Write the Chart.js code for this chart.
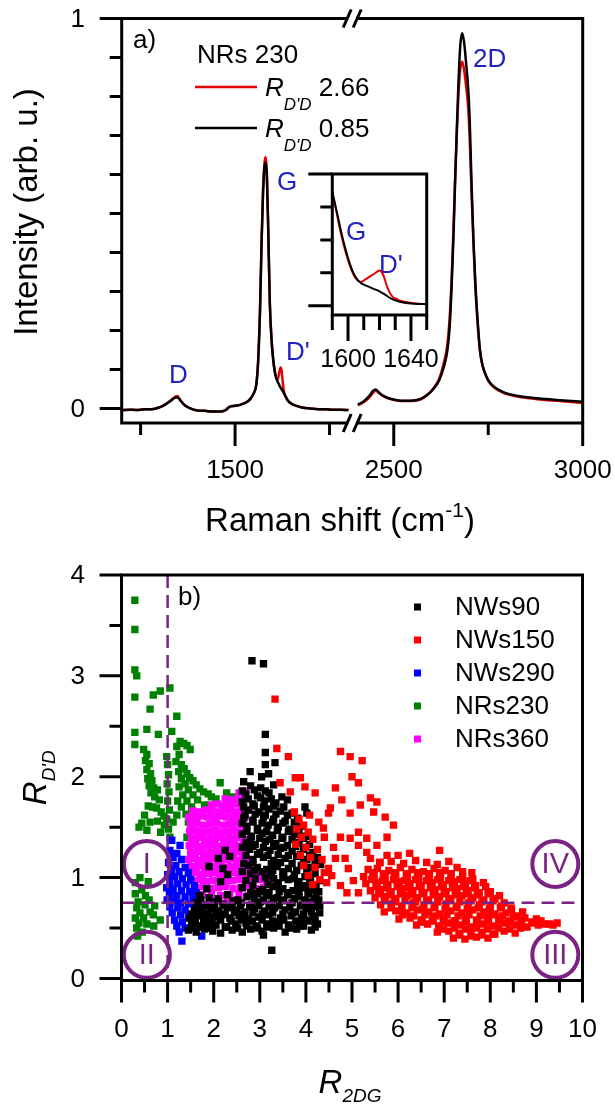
<!DOCTYPE html>
<html>
<head>
<meta charset="utf-8">
<script src="https://cdn.jsdelivr.net/npm/chart.js@4.4.1/dist/chart.umd.min.js"></script>
<style>
  html, body { margin: 0; padding: 0; background: #fff; }
  body { width: 615px; height: 1107px; position: relative; overflow: hidden; }
  canvas { position: absolute; }
</style>
</head>
<body>
<canvas id="spec" width="615" height="545" style="left:0;top:0"></canvas>
<canvas id="inset" width="170" height="230" style="left:280px;top:150px"></canvas>
<canvas id="ratio" width="615" height="562" style="left:0;top:545px"></canvas>
<script>
var FONT = "'Liberation Sans', Arial, sans-serif";
var BLUE = '#2121c4';
var PURPLE = '#7a2382';

// ---- panel a) Raman spectra, NRs 230 (shift in cm-1, normalised intensity)
var shiftLow = [1200,1220,1240,1260,1280,1300,1315,1330,1340,1347,1355,1365,1380,1400,1420,1440,1460,1475,1485,1500,
  1515,1530,1540,1550,1556,1561,1566,1570,1574,1578,1581,1584,1588,1592,1597,1601,1606,1610,1613,1616,
  1619,1621,1623,1626,1629,1633,1640,1650,1665,1680,1700,1720,1740,1760,1780,1800];
var blackLow = [-0.004,-0.003,-0.004,-0.002,-0.002,0.003,0.010,0.020,0.027,0.029,0.021,0.010,0.001,-0.005,-0.006,-0.008,-0.008,-0.004,0.004,0.007,
  0.010,0.016,0.024,0.040,0.060,0.12,0.25,0.42,0.55,0.62,0.63,0.60,0.45,0.27,0.17,0.125,0.09,0.075,0.068,0.062,
  0.056,0.053,0.050,0.045,0.040,0.032,0.020,0.012,0.006,0.002,0.0,-0.002,-0.002,-0.003,-0.003,-0.004];
var redLow = [-0.004,-0.003,-0.004,-0.002,-0.002,0.003,0.010,0.021,0.029,0.032,0.022,0.010,0.001,-0.005,-0.006,-0.008,-0.008,-0.004,0.004,0.007,
  0.010,0.016,0.024,0.040,0.060,0.12,0.25,0.42,0.56,0.63,0.645,0.61,0.45,0.27,0.17,0.125,0.09,0.075,0.075,0.088,
  0.101,0.105,0.098,0.070,0.045,0.033,0.020,0.012,0.006,0.002,0.0,-0.002,-0.002,-0.003,-0.003,-0.004];
var shiftHigh = [2405,2420,2435,2445,2452,2460,2470,2485,2500,2520,2545,2570,2590,2605,2620,2632,2642,2648,2653,2658,
  2662,2667,2671,2676,2681,2686,2691,2697,2701,2706,2711,2716,2721,2728,2735,2742,2750,2765,2780,2795,2830,2880,2940,3000];
var blackHigh = [0.010,0.018,0.032,0.045,0.049,0.042,0.034,0.027,0.023,0.020,0.020,0.024,0.036,0.050,0.072,0.105,0.15,0.21,0.31,0.44,
  0.57,0.72,0.83,0.93,0.962,0.94,0.89,0.82,0.74,0.57,0.43,0.32,0.24,0.15,0.11,0.09,0.073,0.056,0.047,0.040,0.032,0.026,0.021,0.017];
var redHigh = [0.008,0.016,0.028,0.040,0.046,0.040,0.033,0.026,0.022,0.019,0.019,0.023,0.036,0.052,0.076,0.115,0.165,0.235,0.33,0.46,
  0.58,0.71,0.80,0.87,0.889,0.87,0.83,0.77,0.69,0.55,0.42,0.31,0.23,0.15,0.11,0.088,0.071,0.054,0.045,0.038,0.030,0.024,0.019,0.014];
var specTicks = [1250, 1500, 1750, 2500, 2750, 3000];
var specLabels = [1500, 2500, 3000];

// inset: zoom on G / D'
var insetShift = [1590,1592.5,1595,1597.5,1600,1602.5,1605,1608,1611,1614,1617,1620,1622.5,1625,1627.5,1631,1635,1640,1645,1650];
var insetBlack = [3.45,2.93,2.38,1.88,1.45,1.10,0.86,0.70,0.62,0.56,0.50,0.44,0.37,0.29,0.22,0.15,0.10,0.07,0.055,0.05];
var insetRed = [3.45,2.88,2.30,1.80,1.38,1.05,0.82,0.72,0.80,0.89,0.98,1.07,0.92,0.56,0.32,0.20,0.13,0.09,0.06,0.05];
var insetTicks = [1590, 1600, 1610, 1620, 1630, 1640, 1650];
var insetLabels = [1600, 1640];

// ---- panel b) R_D'D vs R_2DG
var nws90 = [
  [2.83,3.15],[3.08,3.12],[3.12,2.42],[3.12,2.24],[3.33,2.14],[3.12,2.12],[2.79,2.05],[3.04,2.00],[3.19,2.03],[3.08,0.43],[3.26,0.28],
  [1.45,0.48],[1.62,0.46],[1.80,0.49],[1.98,0.47],[2.15,0.45],[2.40,0.48],[2.62,0.46],[2.80,0.49],[3.05,0.47],[3.30,0.50],[3.55,0.46],[3.80,0.49],[3.95,0.52],[4.12,0.48],
  [1.55,0.50],[1.77,0.51],[1.95,0.50],[2.28,0.51],[2.52,0.50],[2.72,0.52],[2.95,0.50],[3.18,0.51],[3.42,0.52],[3.68,0.50],[3.90,0.52],[4.20,0.51],
  [1.52,0.54],[1.70,0.52],[1.88,0.55],[2.05,0.53],[2.25,0.51],[2.48,0.54],[2.70,0.55],[2.92,0.52],[3.15,0.54],[3.40,0.56],[3.62,0.53],[3.85,0.55],[4.05,0.57],[4.25,0.54],
  [1.60,0.57],[1.78,0.58],[1.96,0.57],[2.15,0.58],[2.38,0.57],[2.60,0.58],[2.84,0.57],[3.05,0.58],[3.28,0.57],[3.52,0.58],[3.78,0.57],[3.98,0.58],[4.20,0.58],
  [1.48,0.60],[1.65,0.62],[1.82,0.59],[2.00,0.61],[2.18,0.63],[2.35,0.60],[2.55,0.62],[2.75,0.59],[2.98,0.61],[3.20,0.63],[3.45,0.60],[3.68,0.62],[3.90,0.60],[4.15,0.62],[4.30,0.65],
  [1.52,0.64],[1.70,0.65],[1.88,0.64],[2.05,0.65],[2.25,0.64],[2.45,0.65],[2.65,0.64],[2.85,0.65],[3.05,0.64],[3.28,0.65],[3.50,0.64],[3.72,0.65],[3.95,0.64],[4.12,0.66],
  [1.58,0.68],[1.75,0.66],[1.92,0.69],[2.10,0.67],[2.30,0.70],[2.50,0.68],[2.68,0.66],[2.88,0.69],[3.10,0.67],[3.32,0.70],[3.55,0.68],[3.78,0.66],[4.00,0.69],[4.20,0.71],
  [1.68,0.71],[1.85,0.72],[2.02,0.71],[2.22,0.72],[2.40,0.71],[2.58,0.72],[2.78,0.71],[2.98,0.72],[3.20,0.71],[3.42,0.72],[3.65,0.71],[3.88,0.72],[4.08,0.71],[4.30,0.72],
  [1.62,0.75],[1.80,0.73],[1.98,0.76],[2.20,0.74],[2.42,0.77],[2.60,0.75],[2.82,0.73],[3.02,0.76],[3.25,0.74],[3.48,0.77],[3.70,0.75],[3.92,0.73],[4.12,0.76],[4.28,0.78],
  [1.72,0.78],[2.10,0.79],[2.52,0.78],[2.88,0.79],[3.08,0.78],[3.30,0.79],[3.52,0.78],[3.75,0.79],[3.98,0.78],[4.18,0.79],
  [1.70,0.82],[1.90,0.80],[2.30,0.83],[2.72,0.81],[2.95,0.84],[3.15,0.82],[3.38,0.80],[3.60,0.83],[3.85,0.81],[4.05,0.84],[4.22,0.82],
  [2.80,0.85],[3.00,0.86],[3.20,0.85],[3.42,0.86],[3.62,0.85],[3.85,0.86],[4.05,0.85],[4.28,0.86],
  [1.85,0.89],[2.62,0.90],[3.05,0.88],[3.28,0.91],[3.50,0.89],[3.72,0.87],[3.95,0.90],[4.15,0.88],
  [2.85,0.92],[3.18,0.93],[3.38,0.92],[3.82,0.93],[4.00,0.92],[4.22,0.93],
  [2.15,0.96],[2.70,0.97],[3.40,0.95],[3.62,0.98],[3.85,0.96],[4.08,0.94],[4.30,0.97],
  [2.90,0.99],[3.12,1.00],[3.30,0.99],[3.50,1.00],[3.72,0.99],[4.10,1.00],
  [2.30,1.03],[2.80,1.04],[3.25,1.02],[3.52,1.05],[3.75,1.03],[3.98,1.01],[4.20,1.04],
  [2.62,1.06],[2.88,1.07],[3.05,1.06],[3.28,1.07],[3.50,1.06],[3.80,1.07],[4.02,1.06],
  [1.90,1.11],[2.20,1.09],[2.75,1.12],[2.95,1.10],[3.15,1.08],[3.38,1.11],[3.62,1.09],[3.90,1.12],[4.10,1.10],[4.32,1.13],
  [2.65,1.14],[2.85,1.15],[3.25,1.14],[3.45,1.15],[3.70,1.14],[3.95,1.15],[4.20,1.14],
  [2.10,1.19],[2.35,1.21],[2.85,1.18],[3.08,1.20],[3.30,1.17],[3.55,1.19],[3.80,1.21],[4.02,1.18],[4.25,1.20],
  [2.70,1.22],[2.95,1.23],[3.18,1.22],[3.40,1.23],[3.62,1.22],[3.88,1.23],[4.08,1.22],
  [2.25,1.27],[2.78,1.28],[3.00,1.25],[3.22,1.27],[3.45,1.29],[3.70,1.26],[3.95,1.28],[4.15,1.25],
  [2.62,1.30],[2.85,1.31],[3.08,1.30],[3.30,1.31],[3.52,1.30],[3.78,1.31],[3.98,1.30],
  [2.70,1.35],[2.90,1.33],[3.12,1.36],[3.35,1.34],[3.60,1.32],[3.85,1.35],[4.08,1.33],
  [2.80,1.38],[3.00,1.39],[3.22,1.38],[3.48,1.39],[3.70,1.38],[3.95,1.39],
  [2.62,1.43],[2.82,1.41],[3.05,1.44],[3.28,1.42],[3.50,1.40],[3.75,1.43],[4.00,1.41],
  [2.72,1.46],[2.95,1.47],[3.15,1.46],[3.38,1.47],[3.62,1.46],[3.85,1.47],
  [2.72,1.51],[2.95,1.49],[3.18,1.52],[3.40,1.50],[3.65,1.48],[3.90,1.51],
  [2.62,1.54],[2.85,1.55],[3.05,1.54],[3.28,1.55],[3.50,1.54],[3.75,1.55],
  [2.65,1.59],[2.85,1.57],[3.08,1.60],[3.30,1.58],[3.55,1.56],[3.82,1.59],[4.02,1.64],
  [2.68,1.62],[2.90,1.63],[3.12,1.62],[3.35,1.63],[3.60,1.62],
  [2.75,1.67],[2.98,1.65],[3.20,1.68],[3.45,1.66],[3.70,1.64],[3.98,1.70],
  [2.65,1.70],[2.88,1.71],[3.08,1.70],[3.30,1.71],[3.52,1.70],
  [2.62,1.75],[2.85,1.73],[3.10,1.76],[3.35,1.74],[3.60,1.77],
  [2.75,1.78],[3.02,1.79],[3.25,1.78],
  [2.70,1.83],[2.95,1.81],[3.20,1.84],[3.48,1.80],
  [2.62,1.86],[2.88,1.87],[3.12,1.86],
  [2.80,1.91],[3.02,1.89],[3.30,1.92],[2.65,1.95]
];
var nws150 = [
  [3.33,2.77],[3.37,2.28],[3.62,2.20],[3.44,1.94],[3.77,1.99],[3.88,1.99],[3.98,1.90],[3.66,1.85],[4.20,1.84],[4.64,1.89],
  [4.75,2.25],[4.96,2.20],[5.22,2.16],[5.00,2.00],[5.14,1.94],[5.40,1.79],[5.54,1.75],[4.78,1.77],[4.53,1.69],[4.49,1.64],
  [5.18,1.72],[4.96,1.64],[5.47,1.65],[5.72,1.60],[5.90,1.52],[4.38,1.49],[4.75,1.40],[4.96,1.39],[5.14,1.45],[5.32,1.39],
  [5.54,1.32],[5.76,1.40],[5.14,1.32],[5.32,1.25],[4.64,1.19],[4.85,1.19],[4.49,1.09],[4.92,1.09],[4.56,1.02],[4.75,0.92],
  [4.89,0.85],[5.03,0.97],[5.14,0.85],[5.40,1.19],[5.61,1.15],[5.76,1.22],
  [3.75,1.65],[3.85,1.58],[3.95,1.52],[3.80,1.48],[4.05,1.45],[3.90,1.40],[4.15,1.38],[3.78,1.33],[4.00,1.30],[4.25,1.28],
  [3.88,1.22],[4.10,1.20],[4.35,1.18],[3.95,1.12],[4.20,1.10],[4.40,1.05],[4.05,1.02],[4.30,0.98],[4.15,0.93],[4.45,0.95],
  [4.08,1.62],[4.28,1.55],[4.40,1.40],[4.60,1.30],
  [6.00,1.22],[6.25,1.24],[6.90,1.27],
  [5.60,1.15],[5.85,1.16],[6.12,1.14],[6.38,1.17],[6.62,1.15],[6.85,1.13],[7.10,1.16],
  [5.35,1.08],[5.55,1.09],[5.80,1.07],[6.05,1.10],[6.30,1.08],[6.55,1.06],[6.78,1.09],[7.02,1.07],[7.28,1.10],[7.60,1.05],
  [5.45,1.05],[5.68,1.04],[5.92,1.05],[6.18,1.04],[6.42,1.05],[6.66,1.04],[6.90,1.05],[7.15,1.04],[7.40,1.06],
  [5.25,1.01],[5.48,1.02],[5.72,1.00],[5.95,1.03],[6.20,1.01],[6.45,0.99],[6.68,1.02],[6.92,1.00],[7.15,1.03],[7.40,1.01],[7.62,0.99],
  [5.42,0.98],[5.66,0.97],[5.90,0.98],[6.14,0.97],[6.38,0.98],[6.62,0.97],[6.86,0.98],[7.10,0.97],[7.34,0.98],[7.56,0.97],
  [5.30,0.94],[5.55,0.95],[5.78,0.93],[6.02,0.96],[6.26,0.94],[6.50,0.92],[6.74,0.95],[6.98,0.93],[7.22,0.96],[7.46,0.94],[7.68,0.92],[7.85,0.95],
  [5.52,0.91],[5.75,0.90],[5.98,0.91],[6.22,0.90],[6.46,0.91],[6.70,0.90],[6.94,0.91],[7.18,0.90],[7.42,0.91],[7.66,0.90],[7.90,0.91],
  [5.40,0.87],[5.62,0.88],[5.85,0.86],[6.08,0.89],[6.32,0.87],[6.56,0.85],[6.80,0.88],[7.04,0.86],[7.28,0.89],[7.52,0.87],[7.76,0.85],[8.00,0.86],
  [5.58,0.84],[5.82,0.83],[6.05,0.84],[6.28,0.83],[6.52,0.84],[6.76,0.83],[7.00,0.84],[7.24,0.83],[7.48,0.84],[7.72,0.83],[7.95,0.84],[8.20,0.82],
  [5.50,0.80],[5.72,0.81],[5.95,0.79],[6.18,0.82],[6.42,0.80],[6.66,0.78],[6.90,0.81],[7.14,0.79],[7.38,0.82],[7.62,0.80],[7.86,0.78],[8.10,0.79],
  [5.70,0.77],[5.92,0.76],[6.15,0.77],[6.38,0.76],[6.62,0.77],[6.86,0.76],[7.10,0.77],[7.34,0.76],[7.58,0.77],[7.82,0.76],[8.06,0.77],[8.30,0.75],
  [5.62,0.73],[5.85,0.74],[6.08,0.72],[6.32,0.75],[6.56,0.73],[6.80,0.71],[7.04,0.74],[7.28,0.72],[7.52,0.75],[7.76,0.73],[8.00,0.71],[8.24,0.72],[8.45,0.70],
  [5.85,0.70],[6.08,0.69],[6.30,0.70],[6.54,0.69],[6.78,0.70],[7.02,0.69],[7.26,0.70],[7.50,0.69],[7.74,0.70],[7.98,0.69],[8.22,0.70],[8.46,0.68],[8.70,0.66],
  [5.70,0.66],[5.95,0.67],[6.18,0.65],[6.42,0.68],[6.66,0.66],[6.90,0.64],[7.14,0.67],[7.38,0.65],[7.62,0.68],[7.86,0.66],[8.10,0.64],[8.34,0.65],[8.58,0.62],
  [6.10,0.63],[6.34,0.62],[6.58,0.63],[6.82,0.62],[7.06,0.63],[7.30,0.62],[7.54,0.63],[7.78,0.62],[8.02,0.63],[8.26,0.62],[8.50,0.61],[8.75,0.60],[9.00,0.59],
  [6.02,0.59],[6.26,0.60],[6.50,0.58],[6.74,0.61],[6.98,0.59],[7.22,0.57],[7.46,0.60],[7.70,0.58],[7.94,0.61],[8.18,0.59],[8.42,0.57],[8.66,0.58],[8.90,0.56],[9.10,0.57],
  [6.52,0.56],[6.76,0.57],[7.00,0.56],[7.24,0.57],[7.48,0.56],[7.72,0.57],[7.96,0.56],[8.20,0.57],[8.44,0.56],[8.68,0.55],[8.92,0.55],[9.16,0.54],[9.36,0.53],
  [6.40,0.53],[6.64,0.54],[6.88,0.52],[7.12,0.55],[7.36,0.53],[7.60,0.51],[7.84,0.54],[8.08,0.52],[8.32,0.55],[8.56,0.53],[8.80,0.51],[9.04,0.53],[9.28,0.54],[9.45,0.55],
  [6.98,0.49],[7.22,0.50],[7.46,0.49],[7.70,0.50],[7.94,0.49],[8.18,0.50],[8.42,0.49],[8.66,0.50],
  [6.85,0.46],[7.10,0.47],[7.34,0.45],[7.58,0.48],[7.82,0.46],[8.06,0.44],[8.30,0.47],[8.54,0.45],
  [7.32,0.43],[7.58,0.42],[7.82,0.43],[8.10,0.44],
  [7.20,0.40],[7.45,0.39],[7.70,0.41],[7.95,0.40]
];
var nws290 = [
  [1.09,1.37],[1.27,1.32],[1.05,1.27],[1.20,1.24],[1.12,1.20],[1.30,1.18],[1.02,1.15],[1.18,1.12],[1.38,1.10],[1.08,1.08],
  [1.25,1.06],[1.45,1.05],[1.00,1.03],[1.15,1.01],[1.32,0.99],[1.50,0.98],[1.05,0.96],[1.22,0.94],[1.40,0.93],[1.58,0.92],
  [0.98,0.90],[1.12,0.89],[1.30,0.87],[1.48,0.86],[1.04,0.84],[1.20,0.82],[1.38,0.81],[1.55,0.80],[0.99,0.78],[1.14,0.77],
  [1.28,0.75],[1.45,0.74],[1.05,0.71],[1.22,0.70],[1.38,0.68],[1.10,0.65],[1.28,0.63],[1.45,0.62],[1.15,0.58],[1.32,0.56],
  [1.20,0.52],[1.38,0.50],[1.25,0.46],[1.31,0.37],[1.74,0.42],[1.60,0.70],[1.62,0.85]
];
var nrs230 = [
  [0.29,3.75],[0.29,3.46],[0.29,3.06],[0.33,3.00],[0.29,2.79],[0.69,2.81],[0.84,2.85],[1.05,2.88],[0.62,2.67],[1.20,2.60],
  [0.29,2.44],[0.55,2.47],[0.80,2.42],[1.09,2.45],[0.29,2.32],[1.27,2.35],[1.35,2.33],[1.42,2.31],[1.49,2.27],
  [0.48,2.27],[0.55,2.22],[0.52,2.16],[0.60,2.13],[0.55,2.07],[0.63,2.03],[0.57,1.98],[0.66,1.96],[0.60,1.91],[0.70,1.89],
  [0.78,1.87],[0.64,1.84],[0.72,1.80],[0.82,1.77],[0.58,1.71],[0.67,1.70],[0.76,1.69],[0.86,1.65],[0.50,1.62],[0.92,1.61],
  [0.44,1.54],[0.62,1.55],[0.78,1.56],[0.93,1.52],[0.38,1.50],[0.55,1.47],[0.85,1.45],
  [0.98,2.20],[1.00,2.12],[1.02,2.02],[0.99,1.93],[1.03,1.85],[1.00,1.76],[1.04,1.67],[0.98,1.58],[1.02,1.48],[1.05,1.40],
  [1.20,2.30],[1.25,2.22],[1.18,2.15],[1.30,2.12],[1.24,2.05],[1.36,2.08],[1.42,2.03],[1.30,1.98],[1.48,1.99],[1.55,1.96],
  [1.38,1.93],[1.62,1.92],[1.25,1.90],[1.45,1.87],[1.70,1.88],[1.78,1.85],[1.33,1.82],[1.55,1.82],[1.88,1.83],[1.95,1.80],
  [1.22,1.76],[1.42,1.76],[1.65,1.77],[2.05,1.78],[2.14,1.94],[2.28,1.84],[2.40,1.80],[1.30,1.70],[1.52,1.70],[1.80,1.72],
  [1.20,1.62],[1.40,1.63],[1.62,1.64],[1.45,1.55],[1.52,1.47],[1.42,1.40],[1.12,1.55],
  [0.44,0.88],[0.30,0.84],[0.52,0.82],[0.36,0.76],[0.60,0.78],[0.33,0.70],[0.51,0.73],[0.72,0.72],[0.40,0.65],[0.62,0.66],
  [0.30,0.60],[0.48,0.60],[0.69,0.63],[0.84,0.58],[0.38,0.55],[0.55,0.54],[0.33,0.50],[0.70,0.52],[0.45,0.46],[0.35,0.42],
  [0.58,0.96],[0.40,1.00],[0.30,0.95]
];
var nrs360 = [
  [2.55,1.84],[2.68,1.86],
  [2.25,1.78],[2.40,1.77],[2.55,1.79],[2.68,1.78],
  [1.95,1.72],[2.08,1.73],[2.20,1.71],[2.33,1.72],[2.46,1.73],[2.60,1.71],
  [1.55,1.66],[1.70,1.65],[1.83,1.67],[1.96,1.66],[2.10,1.65],[2.23,1.67],[2.36,1.66],[2.50,1.65],[2.63,1.67],
  [1.46,1.60],[1.60,1.59],[1.74,1.61],[1.88,1.60],[2.01,1.59],[2.15,1.61],[2.28,1.60],[2.42,1.59],[2.55,1.61],[2.68,1.60],
  [1.50,1.53],[1.64,1.54],[1.78,1.52],[1.92,1.53],[2.06,1.54],[2.20,1.52],[2.34,1.53],[2.48,1.54],[2.62,1.52],
  [1.48,1.46],[1.62,1.47],[1.76,1.45],[1.90,1.46],[2.04,1.47],[2.18,1.45],[2.32,1.46],[2.46,1.47],[2.60,1.45],
  [1.52,1.39],[1.66,1.40],[1.80,1.38],[1.94,1.39],[2.08,1.40],[2.22,1.38],[2.36,1.39],[2.50,1.40],[2.64,1.38],
  [1.47,1.32],[1.61,1.33],[1.75,1.31],[1.89,1.32],[2.03,1.33],[2.17,1.31],[2.31,1.32],[2.45,1.33],[2.59,1.31],
  [1.50,1.25],[1.64,1.26],[1.78,1.24],[1.92,1.25],[2.06,1.26],[2.20,1.24],[2.34,1.25],[2.48,1.26],[2.62,1.24],
  [1.46,1.18],[1.60,1.19],[1.74,1.17],[1.88,1.18],[2.02,1.19],[2.16,1.17],[2.30,1.18],[2.44,1.19],[2.58,1.17],[2.72,1.18],
  [1.52,1.11],[1.66,1.12],[1.80,1.10],[1.94,1.11],[2.08,1.12],[2.22,1.10],[2.36,1.11],[2.50,1.12],[2.64,1.10],[2.78,1.11],
  [1.48,1.04],[1.62,1.05],[1.76,1.03],[1.90,1.04],[2.04,1.05],[2.18,1.03],[2.32,1.04],[2.46,1.05],[2.60,1.03],[2.74,1.04],[2.90,1.05],[3.05,1.03],[3.20,1.04],
  [1.55,0.97],[1.70,0.98],[1.84,0.96],[1.98,0.97],[2.12,0.98],[2.26,0.96],[2.40,0.97],[2.54,0.98],[2.68,0.96],[2.84,0.97],[3.00,0.98],[3.15,0.96],[3.30,0.97],
  [1.62,0.90],[1.78,0.91],[1.94,0.89],[2.10,0.90],[2.26,0.91],[2.42,0.89],[2.58,0.90],[2.74,0.91],[2.90,0.89],[3.08,0.90],
  [1.75,0.83],[1.95,0.84],[2.15,0.82],[2.35,0.83],[2.55,0.84],[2.75,0.82],
  [2.05,0.77],[2.30,0.76],[2.55,0.77]
];
var seriesNames = ['NWs90', 'NWs150', 'NWs290', 'NRs230', 'NRs360'];
var seriesColors = ['#000000', '#ff0000', '#0000ff', '#008000', '#ff00ff'];
var guideX = 1, guideY = 0.75;
var regionNames = ['I', 'II', 'III', 'IV'];
var regionX = [0.55, 0.55, 9.41, 9.41];
var regionY = [1.135, 0.235, 0.235, 1.135];

Chart.defaults.font.family = FONT;
Chart.defaults.color = '#000';

// broken axis: 1800..2400 cut out
function brk(w) { return w > 2000 ? w - 580 : w; }
function unbrk(v) { return v > 1810 ? v + 580 : v; }

function toXY(xs, ys) {
  return xs.map(function (w, i) { return { x: brk(w), y: ys[i] }; });
}
function spectrum(low, high) {
  return toXY(shiftLow, low).concat([{ x: 1810, y: null }], toXY(shiftHigh, high));
}
function toXYplain(xs, ys) { return xs.map(function (x, i) { return { x: x, y: ys[i] }; }); }

function richText(ctx, x, y, parts) {
  parts.forEach(function (p) {
    ctx.font = p[1];
    ctx.fillText(p[0], x, y + (p[2] || 0));
    x += ctx.measureText(p[0]).width;
  });
  return x;
}
function richWidth(ctx, parts) {
  var w = 0;
  parts.forEach(function (p) { ctx.font = p[1]; w += ctx.measureText(p[0]).width; });
  return w;
}

// y tick labels, right aligned a fixed distance left of the frame
function yLabels(ctx, ys, labelOf) {
  ctx.fillStyle = '#000';
  ctx.font = '26px ' + FONT;
  ctx.textAlign = 'right';
  ctx.textBaseline = 'middle';
  ys.ticks.forEach(function (t) {
    var s = labelOf(t.value);
    if (s) ctx.fillText(s, 85, ys.getPixelForValue(t.value) + 1);
  });
}

var specDecor = {
  id: 'specDecor',
  afterDraw: function (chart) {
    var ctx = chart.ctx, a = chart.chartArea, xs = chart.scales.x, ys = chart.scales.y;
    ctx.save();
    ctx.strokeStyle = '#000';
    ctx.lineWidth = 3;
    ctx.strokeRect(a.left, a.top, a.right - a.left, a.bottom - a.top);
    ctx.beginPath();
    xs.ticks.forEach(function (t) {
      var px = xs.getPixelForValue(t.value);
      var len = specLabels.indexOf(unbrk(t.value)) >= 0 ? 23 : 12;
      ctx.moveTo(px, a.bottom); ctx.lineTo(px, a.bottom + len);
    });
    ys.ticks.forEach(function (t) {
      var py = ys.getPixelForValue(t.value);
      var len = (t.value === 0 || t.value === 1) ? 22 : 12;
      ctx.moveTo(a.left, py); ctx.lineTo(a.left - len, py);
    });
    ctx.stroke();
    yLabels(ctx, ys, function (v) { return (v === 0 || v === 1) ? String(v) : ''; });

    // axis break marks
    var bx = xs.getPixelForValue(1810);
    ctx.fillStyle = '#fff';
    [a.top, a.bottom].forEach(function (y) {
      ctx.fillRect(bx - 4, y - 3, 8, 6);
      ctx.beginPath();
      ctx.moveTo(bx - 9, y + 9); ctx.lineTo(bx - 1, y - 9);
      ctx.moveTo(bx + 1, y + 9); ctx.lineTo(bx + 9, y - 9);
      ctx.stroke();
    });

    // legend
    ctx.fillStyle = '#000';
    ctx.textBaseline = 'alphabetic';
    ctx.textAlign = 'left';
    ctx.font = '26px ' + FONT;
    ctx.fillText('a)', 133, 48);
    ctx.fillText('NRs 230', 197, 63);
    var rows = [['#e00000', '2.66', 87], ['#000000', '0.85', 128]];
    rows.forEach(function (r) {
      ctx.strokeStyle = r[0];
      ctx.lineWidth = 2.5;
      ctx.beginPath(); ctx.moveTo(195, r[2]); ctx.lineTo(257, r[2]); ctx.stroke();
      richText(ctx, 265, r[2] + 9, [
        ['R', 'italic 26px ' + FONT],
        ["D'D", 'italic 17px ' + FONT, 14],
        [' ' + r[1], '26px ' + FONT]
      ]);
    });

    // peak names
    ctx.fillStyle = BLUE;
    ctx.font = '26px ' + FONT;
    ctx.fillText('G', 277, 190);
    ctx.fillText("D'", 286, 360);
    ctx.fillText('D', 169, 383);
    ctx.fillText('2D', 473, 67);
    ctx.fillText('G', 346, 240);
    ctx.fillText("D'", 379, 273);

    // axis titles
    ctx.fillStyle = '#000';
    var tp = [['Raman shift (cm', '33px ' + FONT], ['-1', '21px ' + FONT, -14], [')', '33px ' + FONT]];
    richText(ctx, 340 - richWidth(ctx, tp) / 2, 531, tp);
    ctx.translate(28, 212);
    ctx.rotate(-Math.PI / 2);
    ctx.textAlign = 'center';
    ctx.textBaseline = 'middle';
    ctx.font = '33px ' + FONT;
    ctx.fillText('Intensity (arb. u.)', 0, 0);
    ctx.restore();
  }
};

var insetDecor = {
  id: 'insetDecor',
  afterDraw: function (chart) {
    var ctx = chart.ctx, a = chart.chartArea, xs = chart.scales.x, ys = chart.scales.y;
    ctx.save();
    ctx.strokeStyle = '#000';
    ctx.lineWidth = 3;
    ctx.strokeRect(a.left, a.top, a.right - a.left, a.bottom - a.top);
    ctx.beginPath();
    xs.ticks.forEach(function (t) {
      var px = xs.getPixelForValue(t.value);
      var len = insetLabels.indexOf(t.value) >= 0 ? 26 : 15;
      ctx.moveTo(px, a.bottom); ctx.lineTo(px, a.bottom + len);
    });
    ys.ticks.forEach(function (t) {
      var py = ys.getPixelForValue(t.value);
      var len = (t.value === 0 || t.value === 4) ? 24 : 12;
      ctx.moveTo(a.left, py); ctx.lineTo(a.left - len, py);
    });
    ctx.stroke();
    ctx.restore();
  }
};

var ratioDecor = {
  id: 'ratioDecor',
  afterDraw: function (chart) {
    var ctx = chart.ctx, a = chart.chartArea, xs = chart.scales.x, ys = chart.scales.y;
    ctx.save();
    // guide lines
    ctx.strokeStyle = PURPLE;
    ctx.lineWidth = 2.5;
    ctx.setLineDash([13, 7]);
    ctx.beginPath();
    var gx = xs.getPixelForValue(guideX), gy = ys.getPixelForValue(guideY);
    ctx.moveTo(gx, a.top); ctx.lineTo(gx, a.bottom);
    ctx.moveTo(a.left, gy); ctx.lineTo(a.right, gy);
    ctx.stroke();
    ctx.setLineDash([]);

    // regions
    ctx.lineWidth = 4;
    ctx.fillStyle = PURPLE;
    ctx.font = '29px ' + FONT;
    ctx.textAlign = 'center';
    ctx.textBaseline = 'middle';
    regionNames.forEach(function (n, i) {
      var cx = xs.getPixelForValue(regionX[i]), cy = ys.getPixelForValue(regionY[i]);
      ctx.beginPath(); ctx.arc(cx, cy, 23, 0, 2 * Math.PI); ctx.stroke();
      ctx.fillText(n, cx, cy + 1);
    });

    // frame and ticks
    ctx.strokeStyle = '#000';
    ctx.lineWidth = 3;
    ctx.strokeRect(a.left, a.top, a.right - a.left, a.bottom - a.top);
    ctx.beginPath();
    xs.ticks.forEach(function (t) {
      var px = xs.getPixelForValue(t.value);
      var len = Number.isInteger(t.value) ? 22 : 12;
      ctx.moveTo(px, a.bottom); ctx.lineTo(px, a.bottom + len);
    });
    ys.ticks.forEach(function (t) {
      var py = ys.getPixelForValue(t.value);
      var len = Number.isInteger(t.value) ? 22 : 12;
      ctx.moveTo(a.left, py); ctx.lineTo(a.left - len, py);
    });
    ctx.stroke();
    yLabels(ctx, ys, function (v) { return Number.isInteger(v) ? String(v) : ''; });

    // legend
    ctx.textAlign = 'left';
    ctx.textBaseline = 'middle';
    ctx.font = '26px ' + FONT;
    chart.data.datasets.forEach(function (ds, i) {
      var y = 62 + i * 33;
      ctx.fillStyle = ds.backgroundColor;
      ctx.fillRect(414, y - 3.5, 7, 7);
      ctx.fillStyle = '#000';
      ctx.fillText(ds.label, 455, y + 1);
    });
    ctx.textBaseline = 'alphabetic';
    ctx.fillText('b)', 178, 60);

    // axis titles
    var xt = [['R', 'italic 33px ' + FONT], ['2DG', 'italic 19px ' + FONT, 9]];
    richText(ctx, 350 - richWidth(ctx, xt) / 2, 548, xt);
    var yt = [['R', 'italic 33px ' + FONT], ["D'D", 'italic 19px ' + FONT, 9]];
    var w = richWidth(ctx, yt);
    ctx.translate(46, (a.top + a.bottom) / 2 + w / 2);
    ctx.rotate(-Math.PI / 2);
    richText(ctx, 0, 0, yt);
    ctx.restore();
  }
};

function fixedWidth(w) { return function (s) { s.width = w; }; }
function fixedHeight(h) { return function (s) { s.height = h; }; }
function setTicks(vals) { return function (s) { s.ticks = vals.map(function (v) { return { value: v }; }); }; }
function steps(from, to, step) {
  var out = [];
  for (var i = 0; from + i * step <= to + 1e-9; i++) out.push(Math.round((from + i * step) * 100) / 100);
  return out;
}

// panel a
new Chart(document.getElementById('spec'), {
  type: 'line',
  data: {
    datasets: [
      { label: "R_D'D 0.85", data: spectrum(blackLow, blackHigh), borderColor: '#000', borderWidth: 2.5,
        pointRadius: 0, cubicInterpolationMode: 'monotone' },
      { label: "R_D'D 2.66", data: spectrum(redLow, redHigh), borderColor: '#e00000', borderWidth: 2.5,
        pointRadius: 0, cubicInterpolationMode: 'monotone' }
    ]
  },
  options: {
    responsive: false,
    animation: false,
    layout: { padding: { left: 70, top: 18.5, right: 32.3, bottom: 0 } },
    plugins: { legend: { display: false }, tooltip: { enabled: false } },
    scales: {
      x: {
        type: 'linear', min: 1200, max: 2420,
        afterBuildTicks: setTicks(specTicks.map(brk)),
        afterFit: fixedHeight(122),
        grid: { display: false, drawTicks: false }, border: { display: false },
        ticks: { padding: 0, font: { size: 26, lineHeight: '96px' }, maxRotation: 0, autoSkip: false,
          callback: function (v) { var w = unbrk(v); return specLabels.indexOf(w) >= 0 ? String(w) : ''; } }
      },
      y: {
        min: -0.0372, max: 1,
        afterBuildTicks: setTicks(steps(0, 1, 0.1)),
        afterFit: fixedWidth(51.7),
        grid: { display: false, drawTicks: false }, border: { display: false },
        ticks: { display: false }
      }
    }
  },
  plugins: [specDecor]
});

// inset
new Chart(document.getElementById('inset'), {
  type: 'line',
  data: {
    datasets: [
      { data: toXYplain(insetShift, insetBlack), borderColor: '#000', borderWidth: 2, pointRadius: 0, cubicInterpolationMode: 'monotone' },
      { data: toXYplain(insetShift, insetRed), borderColor: '#e00000', borderWidth: 2, pointRadius: 0, cubicInterpolationMode: 'monotone' }
    ]
  },
  options: {
    responsive: false,
    animation: false,
    layout: { padding: { left: 0, top: 24, right: 23.3, bottom: 0 } },
    plugins: { legend: { display: false }, tooltip: { enabled: false } },
    scales: {
      x: {
        type: 'linear', min: 1590, max: 1650,
        afterBuildTicks: setTicks(insetTicks),
        afterFit: fixedHeight(65),
        grid: { display: false, drawTicks: false }, border: { display: false },
        ticks: { padding: 0, font: { size: 25, lineHeight: '90px' }, maxRotation: 0, autoSkip: false,
          callback: function (v) { return insetLabels.indexOf(v) >= 0 ? String(v) : ''; } }
      },
      y: {
        min: -0.28, max: 4,
        afterBuildTicks: setTicks([0, 1, 2, 3, 4]),
        afterFit: fixedWidth(52.3),
        grid: { display: false, drawTicks: false }, border: { display: false },
        ticks: { display: false }
      }
    }
  },
  plugins: [insetDecor]
});

// panel b
var groups = [nws90, nws150, nws290, nrs230, nrs360];
var drawOrder = [1, 0, 2, 4, 3];
new Chart(document.getElementById('ratio'), {
  type: 'scatter',
  data: {
    datasets: groups.map(function (g, i) {
      return {
        label: seriesNames[i],
        data: g.map(function (p) { return { x: p[0], y: p[1] }; }),
        backgroundColor: seriesColors[i],
        borderColor: seriesColors[i],
        borderWidth: 0,
        pointStyle: 'rect',
        pointRadius: 5.2,
        order: drawOrder[i]
      };
    })
  },
  options: {
    responsive: false,
    animation: false,
    layout: { padding: { left: 70, top: 30, right: 32.5, bottom: 0 } },
    plugins: { legend: { display: false }, tooltip: { enabled: false } },
    scales: {
      x: {
        type: 'linear', min: 0, max: 10,
        afterBuildTicks: setTicks(steps(0, 10, 0.5)),
        afterFit: fixedHeight(126.5),
        grid: { display: false, drawTicks: false }, border: { display: false },
        ticks: { padding: 0, font: { size: 26, lineHeight: '99px' }, maxRotation: 0, autoSkip: false,
          callback: function (v) { return Number.isInteger(v) ? String(v) : ''; } }
      },
      y: {
        min: -0.02, max: 4,
        afterBuildTicks: setTicks(steps(0, 4, 0.5)),
        afterFit: fixedWidth(51.5),
        grid: { display: false, drawTicks: false }, border: { display: false },
        ticks: { display: false }
      }
    }
  },
  plugins: [ratioDecor]
});
</script>
</body>
</html>
